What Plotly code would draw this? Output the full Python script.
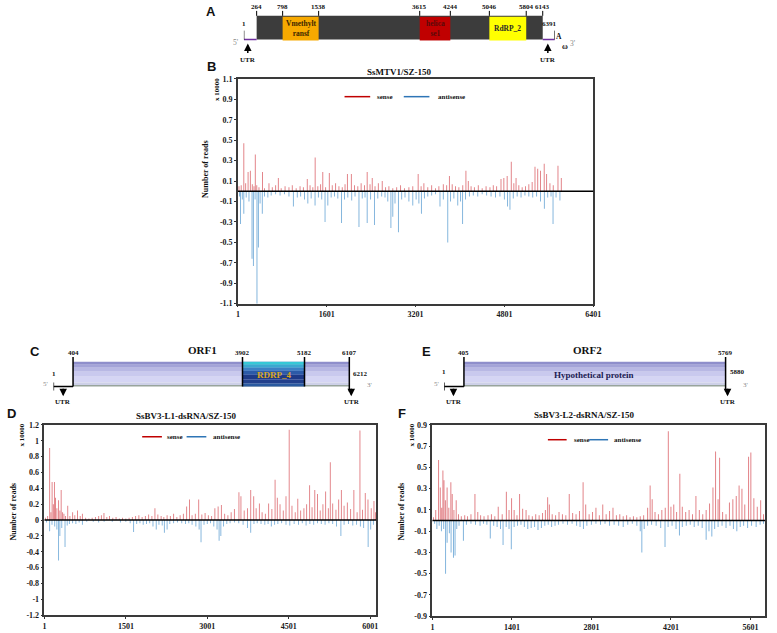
import plotly.graph_objects as go

W, H = 777, 633
SERIF = "Liberation Serif"
SANS = "Liberation Sans"

# ---------------- data ----------------
# Panel B: SsMTV1/SZ-150 (x 10000 reads)
b_sense_pos = [20,60,107,140,184,225,260,290,314,340,380,444,480,560,620,680,729,780,850,920,980,1050,1120,1180,1250,1300,1350,1392,1440,1490,1529,1580,1647,1700,1760,1820,1880,1930,1973,2044,2100,2160,2220,2280,2329,2380,2420,2470,2530,2600,2660,2720,2790,2860,2930,3000,3080,3150,3247,3300,3350,3420,3490,3560,3620,3700,3760,3810,3860,3920,3980,4050,4107,4150,4200,4260,4330,4400,4470,4540,4600,4660,4739,4790,4850,4924,4970,5010,5060,5120,5180,5240,5300,5351,5400,5450,5517,5560,5620,5680,5765,5825]
b_sense_val = [0.05,0.06,0.47,0.08,0.19,0.2,0.07,0.05,0.36,0.06,0.04,0.19,0.03,0.08,0.04,0.06,0.13,0.03,0.05,0.04,0.06,0.03,0.05,0.04,0.12,0.06,0.04,0.33,0.05,0.07,0.19,0.04,0.18,0.06,0.08,0.05,0.04,0.07,0.17,0.17,0.06,0.05,0.08,0.06,0.19,0.07,0.13,0.05,0.08,0.1,0.04,0.05,0.03,0.04,0.06,0.03,0.04,0.05,0.17,0.05,0.08,0.04,0.06,0.03,0.05,0.07,0.06,0.15,0.07,0.05,0.04,0.06,0.2,0.1,0.05,0.04,0.06,0.03,0.05,0.04,0.06,0.05,0.12,0.13,0.15,0.29,0.08,0.13,0.06,0.04,0.05,0.07,0.09,0.24,0.22,0.2,0.27,0.17,0.08,0.06,0.25,0.13]
b_anti_pos = [30,47,80,107,150,200,255,280,310,344,370,400,440,480,540,600,680,760,840,920,1000,1070,1130,1200,1260,1320,1390,1450,1510,1570,1620,1680,1740,1800,1867,1920,1980,2050,2110,2181,2240,2290,2329,2390,2460,2520,2590,2650,2700,2756,2790,2830,2892,2950,3010,3080,3150,3210,3260,3306,3360,3420,3490,3560,3640,3700,3780,3830,3890,3960,4010,4047,4100,4170,4240,4320,4400,4480,4560,4640,4720,4800,4857,4900,4960,5030,5100,5170,5240,5310,5380,5450,5520,5580,5640,5676,5730,5800]
b_anti_val = [-0.05,-0.32,-0.08,-0.22,-0.06,-0.1,-0.66,-0.73,-0.08,-1.1,-0.55,-0.12,-0.22,-0.05,-0.06,-0.04,-0.03,-0.04,-0.03,-0.05,-0.15,-0.06,-0.05,-0.08,-0.12,-0.07,-0.14,-0.06,-0.08,-0.3,-0.14,-0.06,-0.05,-0.07,-0.31,-0.08,-0.06,-0.09,-0.05,-0.35,-0.07,-0.06,-0.31,-0.08,-0.33,-0.07,-0.05,-0.06,-0.1,-0.36,-0.25,-0.12,-0.4,-0.08,-0.06,-0.1,-0.14,-0.08,-0.12,-0.22,-0.07,-0.05,-0.04,-0.03,-0.15,-0.08,-0.5,-0.1,-0.07,-0.14,-0.1,-0.32,-0.08,-0.05,-0.04,-0.05,-0.03,-0.04,-0.05,-0.06,-0.05,-0.08,-0.15,-0.18,-0.07,-0.05,-0.06,-0.04,-0.05,-0.06,-0.05,-0.1,-0.17,-0.06,-0.05,-0.32,-0.06,-0.09]

# Panel D: SsBV3-L1-dsRNA/SZ-150
d_sense_pos = [20,60,97,120,142,165,185,205,230,261,285,309,335,360,390,430,470,520,560,610,660,700,760,820,880,940,1000,1050,1097,1150,1200,1260,1320,1380,1440,1500,1560,1620,1680,1740,1800,1860,1920,1980,2036,2090,2150,2200,2260,2320,2380,2440,2500,2560,2620,2673,2720,2780,2842,2900,2960,3020,3080,3140,3200,3260,3320,3380,3440,3500,3583,3620,3680,3740,3800,3855,3900,3960,4010,4070,4130,4190,4249,4290,4340,4400,4450,4509,4560,4620,4667,4720,4780,4830,4885,4930,4980,5030,5080,5130,5180,5230,5266,5310,5370,5420,5470,5520,5580,5640,5700,5760,5812,5860,5910,5960,6020,6070,6100]
d_sense_val = [0.03,0.05,0.91,0.1,0.48,0.2,0.48,0.28,0.15,0.25,0.12,0.38,0.1,0.08,0.05,0.18,0.05,0.1,0.06,0.12,0.05,0.08,0.03,0.02,0.03,0.04,0.05,0.06,0.09,0.04,0.05,0.03,0.04,0.02,0.03,0.02,0.03,0.04,0.05,0.06,0.04,0.05,0.07,0.05,0.15,0.07,0.05,0.04,0.06,0.05,0.08,0.04,0.06,0.08,0.17,0.26,0.06,0.08,0.26,0.07,0.09,0.06,0.05,0.15,0.17,0.19,0.08,0.06,0.1,0.14,0.35,0.3,0.12,0.15,0.38,0.3,0.15,0.21,0.1,0.08,0.21,0.14,0.51,0.28,0.2,0.12,0.3,1.14,0.18,0.1,0.27,0.12,0.15,0.2,0.44,0.16,0.38,0.33,0.12,0.2,0.36,0.15,0.73,0.21,0.13,0.26,0.38,0.18,0.22,0.14,0.38,0.1,1.13,0.13,0.34,0.26,0.15,0.24,0.1]
d_anti_pos = [40,97,140,190,230,261,285,320,380,420,460,520,580,640,700,780,900,1000,1100,1250,1400,1500,1580,1643,1700,1760,1820,1880,1940,2000,2060,2110,2170,2210,2260,2310,2380,2450,2530,2600,2660,2720,2790,2850,2885,2940,3000,3060,3120,3180,3218,3250,3300,3360,3420,3500,3580,3660,3740,3800,3860,3920,3990,4060,4120,4180,4240,4300,4370,4450,4520,4600,4680,4750,4820,4890,4960,5030,5100,5170,5240,5310,5380,5461,5520,5600,5680,5750,5820,5880,5963,6010,6060]
d_anti_val = [-0.03,-0.14,-0.06,-0.08,-0.12,-0.51,-0.2,-0.1,-0.34,-0.07,-0.05,-0.04,-0.05,-0.03,-0.06,-0.02,-0.02,-0.03,-0.02,-0.02,-0.03,-0.02,-0.04,-0.15,-0.05,-0.04,-0.06,-0.05,-0.04,-0.08,-0.12,-0.06,-0.07,-0.16,-0.12,-0.05,-0.04,-0.03,-0.04,-0.05,-0.04,-0.06,-0.08,-0.12,-0.28,-0.06,-0.05,-0.04,-0.08,-0.12,-0.26,-0.2,-0.08,-0.05,-0.04,-0.03,-0.04,-0.06,-0.1,-0.16,-0.05,-0.04,-0.05,-0.06,-0.05,-0.08,-0.06,-0.05,-0.04,-0.06,-0.07,-0.05,-0.06,-0.04,-0.07,-0.05,-0.06,-0.04,-0.05,-0.06,-0.04,-0.05,-0.08,-0.2,-0.06,-0.05,-0.07,-0.06,-0.08,-0.1,-0.34,-0.12,-0.06]

# Panel F: SsBV3-L2-dsRNA/SZ-150
f_sense_pos = [20,60,110,140,165,186,205,230,260,290,326,350,380,420,460,510,570,620,680,750,800,850,910,980,1040,1100,1160,1230,1303,1350,1395,1440,1490,1536,1590,1650,1700,1760,1820,1880,1940,1990,2030,2060,2110,2170,2230,2290,2350,2410,2470,2530,2590,2654,2700,2760,2820,2880,2940,3000,3060,3120,3180,3240,3300,3360,3420,3480,3540,3600,3660,3720,3790,3834,3870,3920,3980,4040,4100,4154,4200,4250,4300,4357,4400,4460,4520,4580,4640,4700,4760,4820,4880,4940,4986,5030,5057,5110,5170,5230,5290,5350,5400,5450,5500,5567,5607,5660,5720,5780,5830]
f_sense_val = [0.03,0.1,0.57,0.31,0.12,0.47,0.38,0.19,0.31,0.12,0.36,0.25,0.1,0.19,0.06,0.04,0.05,0.04,0.06,0.25,0.08,0.05,0.04,0.05,0.06,0.04,0.13,0.06,0.27,0.1,0.21,0.1,0.05,0.25,0.11,0.1,0.05,0.04,0.06,0.05,0.07,0.1,0.22,0.15,0.06,0.05,0.08,0.06,0.05,0.25,0.07,0.06,0.09,0.36,0.15,0.06,0.08,0.12,0.05,0.15,0.06,0.09,0.12,0.05,0.06,0.04,0.05,0.03,0.04,0.03,0.04,0.05,0.12,0.33,0.2,0.08,0.06,0.1,0.12,0.84,0.13,0.15,0.08,0.44,0.13,0.08,0.1,0.06,0.23,0.1,0.06,0.1,0.16,0.31,0.65,0.2,0.59,0.08,0.06,0.17,0.2,0.23,0.33,0.3,0.15,0.6,0.64,0.21,0.13,0.19,0.06]
f_anti_pos = [40,80,120,160,200,233,260,300,330,372,400,430,470,547,600,680,760,840,900,960,1020,1080,1140,1200,1245,1300,1350,1390,1440,1500,1560,1620,1680,1740,1800,1860,1920,1980,2040,2100,2160,2220,2300,2380,2460,2540,2600,2660,2720,2800,2880,2960,3040,3120,3200,3280,3360,3440,3520,3600,3660,3688,3730,3790,3860,3940,4020,4096,4150,4220,4290,4350,4400,4470,4540,4610,4680,4750,4820,4870,4920,4970,5030,5100,5170,5240,5300,5360,5420,5480,5550,5620,5700,5770,5830]
f_anti_val = [-0.03,-0.08,-0.05,-0.1,-0.08,-0.5,-0.21,-0.12,-0.3,-0.35,-0.33,-0.08,-0.05,-0.19,-0.04,-0.03,-0.04,-0.05,-0.03,-0.04,-0.17,-0.05,-0.06,-0.08,-0.23,-0.06,-0.08,-0.27,-0.06,-0.05,-0.04,-0.06,-0.08,-0.07,-0.06,-0.09,-0.07,-0.05,-0.04,-0.06,-0.05,-0.04,-0.03,-0.04,-0.03,-0.05,-0.06,-0.08,-0.05,-0.04,-0.03,-0.04,-0.03,-0.05,-0.04,-0.05,-0.06,-0.04,-0.03,-0.05,-0.1,-0.3,-0.08,-0.05,-0.04,-0.05,-0.07,-0.25,-0.06,-0.05,-0.08,-0.14,-0.06,-0.05,-0.04,-0.06,-0.05,-0.07,-0.18,-0.1,-0.15,-0.08,-0.06,-0.05,-0.07,-0.05,-0.08,-0.1,-0.06,-0.05,-0.07,-0.05,-0.06,-0.04,-0.03]

# axis ticks
b_xticks = [1, 1601, 3201, 4801, 6401]
b_yticks = [1.1, 0.9, 0.7, 0.5, 0.3, 0.1, -0.1, -0.3, -0.5, -0.7, -0.9, -1.1]
b_yticklabels = ["1.1", "0.9", "0.7", "0.5", "0.3", "0.1", "-0.1", "-0.3", "-0.5", "-0.7", "-0.9", "-1.1"]
d_xticks = [1, 1501, 3001, 4501, 6001]
d_yticks = [1.2, 1.0, 0.8, 0.6, 0.4, 0.2, 0, -0.2, -0.4, -0.6, -0.8, -1.0, -1.2]
d_yticklabels = ["1.2", "1", "0.8", "0.6", "0.4", "0.2", "0", "-0.2", "-0.4", "-0.6", "-0.8", "-1", "-1.2"]
f_xticks = [1, 1401, 2801, 4201, 5601]
f_yticks = [0.9, 0.7, 0.5, 0.3, 0.1, -0.1, -0.3, -0.5, -0.7, -0.9]
f_yticklabels = ["0.9", "0.7", "0.5", "0.3", "0.1", "-0.1", "-0.3", "-0.5", "-0.7", "-0.9"]

# genome maps
a_length = 6391
a_bounds = [264, 798, 1538, 3615, 4244, 5046, 5804, 6143]
a_dom_names = ["Vmethylt<br>ransf", "helica<br>se1", "RdRP_2"]
a_dom_start = [798, 3615, 5046]
a_dom_end = [1538, 4244, 5804]
c_length = 6212
c_orf = [404, 6107]
c_dom = [3902, 5182]
e_length = 5880
e_orf = [405, 5769]

# ---------------- helpers (screen pixel -> paper) ----------------
def py(p):
    return 1 - p / H

def pxx(p):
    return p / W

fig = go.Figure()
SENSE = "rgba(200,20,30,0.55)"
ANTI = "rgba(20,115,190,0.55)"
BW = 17

def add_bars(pos, vals, color, n):
    fig.add_trace(go.Bar(x=pos, y=vals, width=BW, marker=dict(color=color, line=dict(width=0)),
                         xaxis="x" + n, yaxis="y" + n, showlegend=False, hoverinfo="skip"))

add_bars(b_sense_pos, b_sense_val, SENSE, "")
add_bars(b_anti_pos, b_anti_val, ANTI, "")
add_bars(d_sense_pos, d_sense_val, SENSE, "2")
add_bars(d_anti_pos, d_anti_val, ANTI, "2")
add_bars(f_sense_pos, f_sense_val, SENSE, "3")
add_bars(f_anti_pos, f_anti_val, ANTI, "3")

tickfont = dict(family=SERIF, size=8, color="#1a1a1a", weight="bold")

def xax(dom, rng, ticks, anchor):
    return dict(domain=[pxx(dom[0]), pxx(dom[1])], range=rng, tickvals=ticks, ticks="outside",
                ticklen=2, tickcolor="#333", showline=True, mirror=True, linecolor="#3a3a3a",
                linewidth=1.5, showgrid=False, zeroline=False, tickfont=tickfont, anchor=anchor)

def yax(dom, rng, ticks, labels, anchor):
    return dict(domain=[py(dom[1]), py(dom[0])], range=rng, tickvals=ticks, ticktext=labels,
                ticks="outside", ticklen=2, tickcolor="#333", showline=True, mirror=True,
                linecolor="#3a3a3a", linewidth=1.5, showgrid=False, zeroline=False,
                tickfont=tickfont, anchor=anchor)

shapes = []
annotations = []

def ann(text, x, y, xref="paper", size=8, color="#111", family=SERIF, weight="bold",
        xanchor="center", yanchor="middle", angle=0):
    annotations.append(dict(text=text, x=pxx(x) if xref == "paper" else x, y=py(y), xref=xref,
                            yref="paper", showarrow=False, xanchor=xanchor, yanchor=yanchor,
                            textangle=angle, font=dict(family=family, size=size, color=color,
                                                       weight=weight)))

def rect(x0, x1, y0, y1, xref, color, lc=None, lw=0):
    shapes.append(dict(type="rect", xref=xref, yref="paper", x0=x0, x1=x1, y0=py(y1), y1=py(y0),
                       fillcolor=color, line=dict(color=lc or color, width=lw), layer="above"))

def line(x0, x1, y0, y1, xref, color="black", w=1):
    shapes.append(dict(type="line", xref=xref, yref="paper", x0=x0, x1=x1, y0=py(y0), y1=py(y1),
                       line=dict(color=color, width=w), layer="above"))

def arrow(x, y_head, dy, xref):
    annotations.append(dict(text="", x=x, y=py(y_head), xref=xref, yref="paper", showarrow=True,
                            ax=0, ay=dy, arrowhead=2, arrowsize=1, arrowwidth=1.5,
                            arrowcolor="black"))

# ---------------- chart panels ----------------
layout_axes = dict(
    xaxis=xax((239, 599), [1, 6401], b_xticks, "y"),
    yaxis=yax((76, 304), [-1.1, 1.1], b_yticks, b_yticklabels, "x"),
    xaxis2=xax((43, 379), [1, 6110], d_xticks, "y2"),
    yaxis2=yax((427, 620), [-1.2, 1.2], d_yticks, d_yticklabels, "x2"),
    xaxis3=xax((436, 773), [1, 5857], f_xticks, "y3"),
    yaxis3=yax((427, 621), [-0.9, 0.9], f_yticks, f_yticklabels, "x3"),
    xaxis4=dict(domain=[pxx(245), pxx(560)], range=[1, a_length], visible=False, anchor="y4"),
    yaxis4=dict(domain=[0.9, 1], range=[0, 1], visible=False, anchor="x4"),
    xaxis5=dict(domain=[pxx(52.2), pxx(357)], range=[1, c_length], visible=False, anchor="y5"),
    yaxis5=dict(domain=[0.35, 0.45], range=[0, 1], visible=False, anchor="x5"),
    xaxis6=dict(domain=[pxx(448), pxx(738.5)], range=[1, e_length], visible=False, anchor="y6"),
    yaxis6=dict(domain=[0.35, 0.45], range=[0, 1], visible=False, anchor="x6"),
)

for n in ["", "2", "3"]:
    shapes.append(dict(type="line", xref="x" + n + " domain", yref="y" + n, x0=0, x1=1, y0=0, y1=0,
                       line=dict(color="black", width=1.5), layer="above"))

# titles
ann("SsMTV1/SZ-150", 403, 69, size=9)
ann("SsBV3-L1-dsRNA/SZ-150", 187, 418, size=9)
ann("SsBV3-L2-dsRNA/SZ-150", 590, 417, size=9)
# axis labels
ann("Number of reads", 206, 168, size=8, angle=-90)
ann("x 10000", 218, 87, size=7, angle=-90)
ann("Number of reads", 12, 515, size=8, angle=-90)
ann("x 10000", 20, 437, size=7, angle=-90)
ann("Number of reads", 405, 515, size=8, angle=-90)
ann("x 10000", 415, 437, size=7, angle=-90)

# legends
for (s0, s1, st, a0, a1, at, y) in [(347, 373, 378, 407, 433, 440, 94),
                                    (142, 162, 165, 187, 207, 212, 439),
                                    (553, 572, 577, 595, 614, 618, 442)]:
    line(pxx(s0), pxx(s1), y, y, "paper", "#C00000", 1.5)
    ann("sense", st, y, size=7, xanchor="left")
    line(pxx(a0), pxx(a1), y, y, "paper", "#2E75B6", 1.5)
    ann("antisense", at, y, size=7, xanchor="left")

# panel letters
for letter, x, y in [("A", 212, 8), ("B", 212, 63), ("C", 33, 353), ("D", 10, 415),
                     ("E", 430, 353), ("F", 405, 415)]:
    ann(letter, x, y, size=13, family=SANS, color="#111")

# ---------------- genome map A ----------------
XA = "x4"
rect(a_bounds[0], a_bounds[-1], 12, 36, XA, "#3c3c3c")
dom_colors = ["#F7A900", "#C00000", "#FFFF00"]
dom_text = ["#3a2500", "#5a0a0a", "#2a2a2a"]
for nm, s, e, c, tc in zip(a_dom_names, a_dom_start, a_dom_end, dom_colors, dom_text):
    rect(s, e, 13, 37, XA, c)
    ann(nm, (s + e) / 2, 25, XA, size=7.5, color=tc)
for b in a_bounds:
    line(b, b, 7, 12, XA)
    ann(str(b), b, 3.5, XA, size=7)
line(1, a_bounds[0], 36, 36, XA, "#7030A0", 1.5)
line(a_bounds[-1], a_length, 36, 36, XA, "#7030A0", 1.5)
line(1, 1, 27, 36, XA)
line(a_length, a_length, 27, 36, XA)
ann("1", 1, 20, XA, size=7)
ann("6391", a_length - 100, 20, XA, size=7)
ann("A", 564, 33, size=7.5)
ann("\u03c9", 570, 43, size=8)
ann("3'", 578, 40, size=7.5, color="#888", weight="normal")
ann("5'", 237, 39, size=7.5, color="#888", weight="normal")
arrow(82, 40, 11, XA)
arrow(6248, 40, 11, XA)
ann("UTR", 82, 57, XA, size=7)
ann("UTR", 6248, 57, XA, size=7)

# ---------------- genome maps C / E ----------------
lav = [(363, 366, "#8e8ecb"), (366, 369, "#a3a3d8"), (369, 373, "#b8b8e4"), (373, 378, "#c9c9ee"),
       (378, 384, "#d5d5f4"), (384, 386.5, "#cdd0e8"), (386.5, 388, "#98a49c")]
rdrp = [(363, 366, "#35c8d6"), (366, 369, "#3aa8d0"), (369, 372, "#3a80c4"), (372, 376, "#2c5aa8"),
        (376, 381, "#1e3a88"), (381, 385, "#22408c"), (385, 388, "#2a5aa0")]

def orf_bar(xref, s, e, strips):
    for y0, y1, c in strips:
        rect(s, e, y0, y1, xref, c)

XC = "x5"
orf_bar(XC, c_orf[0], c_orf[1], lav)
orf_bar(XC, c_dom[0], c_dom[1], rdrp)
ann("RDRP_4", (c_dom[0] + c_dom[1]) / 2, 376, XC, size=9, color="#d9a521")
for b in [c_orf[0], c_dom[0], c_dom[1]]:
    line(b, b, 358, 388, XC, w=1.5)
    ann(str(b), b, 354, XC, size=7)
line(c_orf[1], c_orf[1], 358, 393, XC, w=1.5)
ann(str(c_orf[1]), c_orf[1], 354, XC, size=7)
line(1, c_orf[0], 388, 388, XC, w=1.5)
line(1, 1, 384, 392, XC, w=1.2)
ann("1", 1, 375, XC, size=7)
ann(str(c_length), 363, 375, size=7)
ann("5'", 49, 385, size=7, color="#888", weight="normal", xanchor="right")
ann("3'", 368, 387, size=7, color="#888", weight="normal", xanchor="left")
ann("ORF1", 203, 351, size=11)
arrow(200, 398, -9, XC)
arrow(c_orf[1] + 40, 398, -9, XC)
ann("UTR", 200, 404, XC, size=7)
ann("UTR", c_orf[1] + 60, 404, XC, size=7)

XE = "x6"
orf_bar(XE, e_orf[0], e_orf[1], lav)
ann("Hypothetical protein", 600, 376, size=9, color="#1c1c52")
line(e_orf[0], e_orf[0], 358, 388, XE, w=1.5)
ann(str(e_orf[0]), e_orf[0], 354, XE, size=7)
line(e_orf[1], e_orf[1], 358, 393, XE, w=1.5)
ann(str(e_orf[1]), e_orf[1], 354, XE, size=7)
line(1, e_orf[0], 388, 388, XE, w=1.5)
line(1, 1, 384, 392, XE, w=1.2)
ann("1", 1, 373, XE, size=7)
ann(str(e_length), 745, 373, size=7)
ann("5'", 445, 385, size=7, color="#888", weight="normal", xanchor="right")
ann("3'", 749, 387, size=7, color="#888", weight="normal", xanchor="left")
ann("ORF2", 593, 351, size=11)
arrow(190, 398, -9, XE)
arrow(e_orf[1] + 40, 398, -9, XE)
ann("UTR", 200, 404, XE, size=7)
ann("UTR", e_orf[1] + 40, 404, XE, size=7)

fig.update_layout(
    width=W, height=H, margin=dict(l=0, r=0, t=0, b=0),
    paper_bgcolor="white", plot_bgcolor="white", barmode="overlay", bargap=0.2,
    showlegend=False, shapes=shapes, annotations=annotations,
    font=dict(family=SERIF), **layout_axes,
)

# remove the browser's default 8px page margin so the figure sits at the window's corner
fig.write_html("out.html", config={"displayModeBar": False},
               post_script="document.body.style.margin='0px';")
